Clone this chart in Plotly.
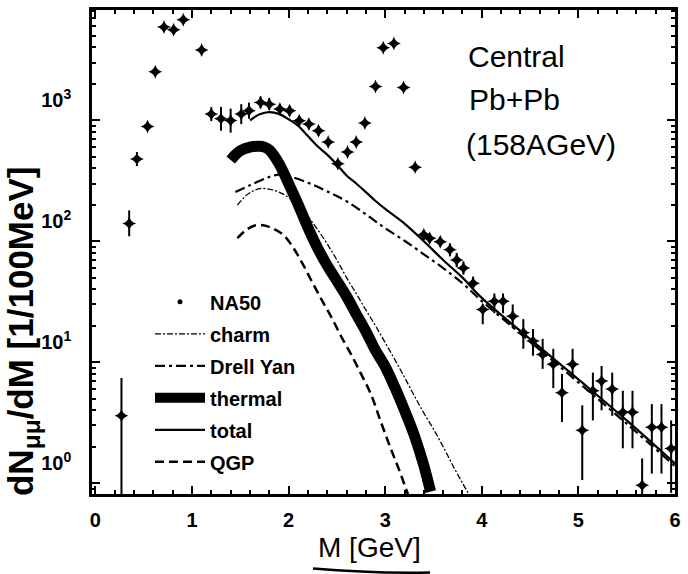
import plotly.graph_objects as go

# ---- NA50 dimuon mass spectrum (central Pb+Pb, 158 AGeV) ----
na50_m = [0.27, 0.35, 0.43, 0.54, 0.62, 0.71, 0.81, 0.91, 1.10,
          1.20, 1.30, 1.40, 1.51, 1.59, 1.71, 1.80, 1.91, 2.01, 2.11, 2.21, 2.31, 2.41, 2.51,
          2.61, 2.70, 2.79, 2.90, 2.98, 3.09, 3.19, 3.31,
          3.40, 3.46, 3.57, 3.67, 3.74, 3.81, 3.91,
          4.01, 4.13, 4.22, 4.32, 4.43, 4.53, 4.63, 4.74, 4.83, 4.94,
          5.04, 5.15, 5.24, 5.35, 5.46, 5.56, 5.66, 5.76, 5.86, 5.96]
na50_y = [3.6, 140, 478, 890, 2520, 5900, 5600, 6770, 3820,
          1125, 1030, 994, 1125, 1200, 1406, 1360, 1240, 1200, 993, 930, 820, 663, 437,
          546, 663, 950, 1900, 3980, 4320, 1870, 410,
          113, 106, 99, 85, 70, 60, 45,
          27.3, 31.9, 31.9, 24, 17.5, 15, 11.6, 9.6, 5.6, 9.6,
          2.73, 5.8, 7.0, 6.0, 3.86, 3.86, 0.96, 2.9, 2.9, 1.93]
# upper / lower ends of the error bars
na50_hi = [7.4, 180, 546, 960, 2520, 5900, 5600, 6770, 3820,
           1285, 1290, 1250, 1360, 1400, 1575, 1525, 1365, 1320, 1090, 1020, 900, 715, 470,
           546, 663, 950, 1900, 3980, 4320, 1870, 410,
           124, 117, 109, 96, 80, 68, 51,
           30, 37, 37, 30, 22.7, 18.8, 15.6, 12.9, 8.0, 12.9,
           4.4, 8.2, 9.3, 8.2, 5.8, 5.8, 1.6, 4.5, 4.5, 3.3]
na50_lo = [0.3, 110, 418, 830, 2520, 5900, 5600, 6770, 3820,
           985, 820, 790, 930, 1030, 1255, 1215, 1130, 1090, 905, 845, 745, 615, 405,
           546, 663, 950, 1900, 3980, 4320, 1870, 410,
           103, 96, 90, 75, 61, 53, 40,
           20.6, 25.4, 25.4, 19.1, 12.9, 11.3, 8.8, 6.1, 3.2, 7.3,
           1.06, 3.3, 4.0, 3.6, 1.94, 1.94, 0.3, 1.2, 1.2, 0.83]

# ---- model contributions ----
charm_m = [1.47, 1.55, 1.62, 1.7, 1.8, 1.9, 2.0, 2.1, 2.2, 2.3, 2.4, 2.5, 2.6, 2.7,
           2.8, 2.9, 3.0, 3.1, 3.2, 3.3, 3.4, 3.5, 3.6, 3.7, 3.8, 3.87]
charm_y = [199, 235, 258, 272, 270, 255, 230, 195, 160, 125, 95, 70, 50, 37,
           27, 20, 14.5, 10.5, 7.5, 5.3, 3.8, 2.8, 2.0, 1.4, 1.0, 0.8]

dy_m = [1.45, 1.6, 1.8, 1.9, 2.0, 2.2, 2.4, 2.6, 2.8, 3.0, 3.2, 3.4, 3.6, 3.8,
        4.0, 4.5, 5.0, 5.5, 6.0]
dy_y = [255, 290, 340, 355, 345, 305, 258, 214, 167, 128, 101, 78, 60, 45,
        32, 14.8, 6.8, 3.1, 1.38]

thermal_m = [1.40, 1.45, 1.5, 1.6, 1.7, 1.75, 1.8, 1.9, 2.0, 2.1, 2.2, 2.3, 2.4, 2.5,
             2.6, 2.7, 2.8, 2.9, 3.0, 3.1, 3.2, 3.3, 3.4, 3.47]
thermal_y = [470, 520, 560, 600, 610, 600, 570, 440, 300, 200, 130, 88, 63, 47,
             35, 25, 18, 12.5, 9.2, 6.2, 4.0, 2.5, 1.4, 0.85]

total_m = [1.6, 1.7, 1.8, 1.9, 2.0, 2.1, 2.2, 2.3, 2.4, 2.5, 2.6, 2.7, 2.8, 2.9,
           3.0, 3.2, 3.4, 3.6, 3.8, 4.0, 4.5, 5.0, 5.5, 6.0]
total_y = [1000, 1120, 1170, 1130, 1020, 900, 740, 610, 520, 430, 350, 300, 255, 215,
           185, 140, 100, 70, 50, 34, 15.5, 7.2, 3.3, 1.45]

qgp_m = [1.47, 1.55, 1.65, 1.75, 1.85, 1.95, 2.05, 2.15, 2.25, 2.35, 2.45, 2.55,
         2.65, 2.75, 2.85, 2.95, 3.05, 3.15, 3.25]
qgp_y = [106, 122, 135, 135, 126, 112, 88, 64, 45, 32, 23, 16,
         11.5, 8, 5.5, 3.3, 2.0, 1.25, 0.75]

y_tick_vals = [1, 10, 100, 1000]
y_tick_text = ["10<sup>0</sup>", "10<sup>1</sup>", "10<sup>2</sup>", "10<sup>3</sup>"]
x_tick_vals = [0, 1, 2, 3, 4, 5, 6]
y_minor_vals = [k * 10 ** e for e in range(-1, 4) for k in range(2, 10)]

FONT = "Liberation Sans, Arial, sans-serif"
INK = "black"

err_up = [h - v for h, v in zip(na50_hi, na50_y)]
err_dn = [v - l for l, v in zip(na50_lo, na50_y)]

fig = go.Figure()

# data points
fig.add_trace(go.Scatter(
    x=na50_m, y=na50_y, mode="markers", showlegend=False,
    marker=dict(symbol="star-diamond", size=10, color=INK),
    error_y=dict(type="data", symmetric=False, array=err_up, arrayminus=err_dn,
                 color=INK, thickness=2, width=0),
))
# legend entry for the data
fig.add_trace(go.Scatter(
    x=[None], y=[None], mode="markers", name="NA50", legendgroup="a",
    marker=dict(symbol="circle", size=5, color=INK),
))

fig.add_trace(go.Scatter(
    x=charm_m, y=charm_y, mode="lines", name="charm", legendgroup="b",
    line=dict(color=INK, width=1.3, dash="6px,2px,2px,2px", shape="spline"),
))
fig.add_trace(go.Scatter(
    x=dy_m, y=dy_y, mode="lines", name="Drell Yan", legendgroup="c",
    line=dict(color=INK, width=2.2, dash="10px,4px,3px,4px", shape="spline"),
))
fig.add_trace(go.Scatter(
    x=thermal_m, y=thermal_y, mode="lines", name="thermal", legendgroup="d",
    line=dict(color=INK, width=11, shape="spline"),
))
fig.add_trace(go.Scatter(
    x=total_m, y=total_y, mode="lines", name="total", legendgroup="e",
    line=dict(color=INK, width=2.2, shape="spline"),
))
fig.add_trace(go.Scatter(
    x=qgp_m, y=qgp_y, mode="lines", name="QGP", legendgroup="f",
    line=dict(color=INK, width=2.5, dash="9px,5px", shape="spline"),
))

axis_common = dict(
    showline=True, linecolor=INK, linewidth=2.5, mirror="ticks",
    ticks="inside", tickcolor=INK, tickwidth=2, ticklen=8,
    showgrid=False, zeroline=False,
    tickfont=dict(family=FONT, size=20, color=INK, weight="bold"),
)

fig.update_layout(
    width=688, height=574, autosize=False,
    margin=dict(l=92, r=13, t=7, b=80),
    paper_bgcolor="white", plot_bgcolor="white",
    font=dict(family=FONT, color=INK),
    xaxis=dict(
        range=[-0.035, 6.0], tickvals=x_tick_vals, ticklabelstandoff=6,
        minor=dict(dtick=0.2, tick0=0, ticks="inside", ticklen=4, tickwidth=1.5,
                   tickcolor=INK, showgrid=False),
        **axis_common,
    ),
    yaxis=dict(
        type="log", range=[-0.090, 3.912],
        tickvals=y_tick_vals, ticktext=y_tick_text,
        ticklabelstandoff=14, ticklabelshift=-20,
        minor=dict(tickvals=y_minor_vals, ticks="inside", ticklen=4, tickwidth=1.5,
                   tickcolor=INK, showgrid=False),
        **axis_common,
    ),
    legend=dict(
        x=(150 - 92) / 583, y=(494 - 281) / 487, xanchor="left", yanchor="top",
        bgcolor="rgba(0,0,0,0)", borderwidth=0,
        font=dict(family=FONT, size=20, color=INK, weight="bold"),
        itemwidth=50, tracegroupgap=3, traceorder="grouped",
    ),
    annotations=[
        dict(text="Central", x=(466 - 92) / 583, y=(494 - 54) / 487,
             xref="paper", yref="paper", xanchor="left", yanchor="middle",
             showarrow=False, font=dict(family=FONT, size=30, color=INK)),
        dict(text="Pb+Pb", x=(467 - 92) / 583, y=(494 - 97) / 487,
             xref="paper", yref="paper", xanchor="left", yanchor="middle",
             showarrow=False, font=dict(family=FONT, size=30, color=INK)),
        dict(text="(158AGeV)", x=(464 - 92) / 583, y=(494 - 142) / 487,
             xref="paper", yref="paper", xanchor="left", yanchor="middle",
             showarrow=False, font=dict(family=FONT, size=30, color=INK)),
        dict(text="M [GeV]", x=(369 - 92) / 583, y=(494 - 548) / 487,
             xref="paper", yref="paper", xanchor="center", yanchor="middle",
             showarrow=False, font=dict(family=FONT, size=28, color=INK)),
        dict(text="dN<sub>μμ</sub>/dM [1/100MeV]", textangle=-90,
             x=(23 - 92) / 583, y=(494 - 330) / 487,
             xref="paper", yref="paper", xanchor="center", yanchor="middle",
             showarrow=False, font=dict(family=FONT, size=35, color=INK, weight="bold")),
    ],
    shapes=[
        dict(type="path", xref="paper", yref="paper",
             path="M {:.4f},{:.4f} Q {:.4f},{:.4f} {:.4f},{:.4f}".format(
                 (313 - 92) / 583, (494 - 569) / 487,
                 (370 - 92) / 583, (494 - 574) / 487,
                 (430 - 92) / 583, (494 - 573) / 487),
             line=dict(color=INK, width=2.5)),
    ],
)

fig.write_html("out.html")
